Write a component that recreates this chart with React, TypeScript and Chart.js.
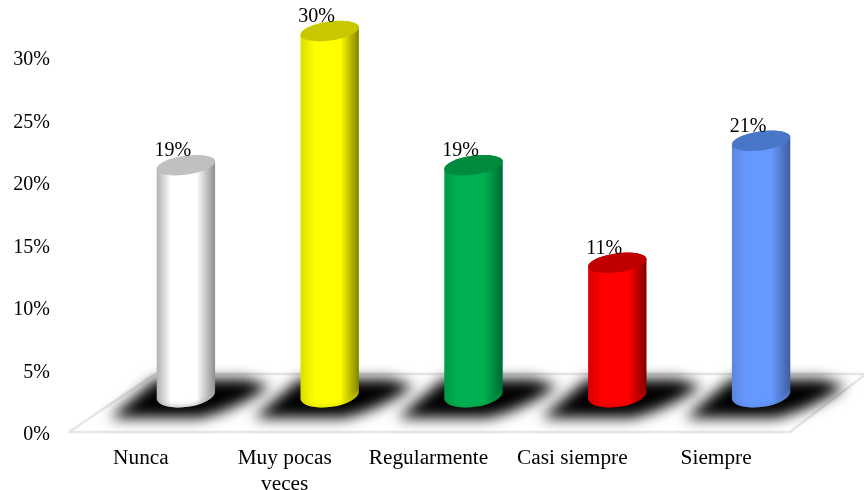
import React, { useEffect, useRef } from "react";
import { Chart, registerables } from "chart.js";

Chart.register(...registerables);

const categories = ["Nunca", ["Muy pocas", "veces"], "Regularmente", "Casi siempre", "Siempre"];
const shares = [19, 30, 19, 11, 21];
const bodyColors = ["#ffffff", "#ffff00", "#00b050", "#ff0000", "#6699ff"];
const capColors = ["#c0c0c0", "#c8c800", "#008a3e", "#c00000", "#4a76c8"];
const edgeLeft = ["#b0b0b0", "#dcdc00", "#009a46", "#d80000", "#5a86e0"];
const edgeRight = ["#8c8c8c", "#808000", "#006830", "#800000", "#3c5c9c"];
const axisTicks = [0, 5, 10, 15, 20, 25, 30];

const FONT = "'Liberation Serif', serif";
const DEPTH_X = 44;
const FLOOR_RISE = 58;
const CAP_RY = 9.5;
const BASE_LIFT = 2;
const TILT = -8 * Math.PI / 180;

const cylinders = {
  id: "cylinders",
  beforeDatasetsDraw(chart: any) {
    const { ctx, chartArea } = chart;
    const left = chartArea.left;
    const right = chartArea.right;
    const floor = chartArea.bottom;
    ctx.save();
    // floor plane
    ctx.beginPath();
    ctx.moveTo(left - 1, floor);
    ctx.lineTo(right + 1, floor);
    ctx.lineTo(right + 77, floor - FLOOR_RISE);
    ctx.lineTo(left + 85, floor - FLOOR_RISE);
    ctx.closePath();
    ctx.fillStyle = "#ffffff";
    ctx.fill();
    ctx.strokeStyle = "#e6e6e6";
    ctx.lineWidth = 2.5;
    ctx.lineJoin = "round";
    ctx.stroke();
    ctx.restore();

    // soft floor shadows
    const meta = chart.getDatasetMeta(0);
    ctx.save();
    ctx.filter = "blur(7px)";
    ctx.fillStyle = "#000000";
    meta.data.forEach((bar: any) => {
      const cx = bar.x + DEPTH_X;
      ctx.beginPath();
      ctx.moveTo(cx - 76, floor - 14);
      ctx.lineTo(cx + 14, floor - 14);
      ctx.quadraticCurveTo(cx + 50, floor - 22, cx + 84, floor - 46);
      ctx.lineTo(cx + 60, floor - 53);
      ctx.lineTo(cx - 30, floor - 53);
      ctx.closePath();
      ctx.fill();
    });
    ctx.restore();
  },
  beforeDatasetDraw(chart: any, args: any) {
    const { ctx } = chart;
    const meta = chart.getDatasetMeta(args.index);
    meta.data.forEach((bar: any, i: number) => {
      const cx = bar.x + DEPTH_X;
      const rx = bar.width / 2;
      const top = bar.y;
      const base = bar.base - BASE_LIFT;
      ctx.save();
      const grad = ctx.createLinearGradient(cx - rx, 0, cx + rx, 0);
      grad.addColorStop(0, edgeLeft[i]);
      grad.addColorStop(0.25, bodyColors[i]);
      grad.addColorStop(0.68, bodyColors[i]);
      grad.addColorStop(1, edgeRight[i]);
      const outline = new Path2D();
      outline.ellipse(cx, base, rx, CAP_RY + 2.5, TILT, 0, Math.PI);
      outline.ellipse(cx, top, rx, CAP_RY, TILT, Math.PI, 2 * Math.PI);
      outline.closePath();
      ctx.fillStyle = grad;
      ctx.fill(outline);

      // rounded rim along the foot of the cylinder
      ctx.save();
      ctx.clip(outline);
      ctx.filter = "blur(2px)";
      ctx.strokeStyle = edgeLeft[i];
      ctx.lineWidth = 3;
      ctx.beginPath();
      ctx.ellipse(cx, base, rx, CAP_RY + 2.5, TILT, 0, Math.PI);
      ctx.stroke();
      ctx.restore();

      ctx.beginPath();
      ctx.ellipse(cx, top, rx, CAP_RY, TILT, 0, 2 * Math.PI);
      ctx.fillStyle = capColors[i];
      ctx.fill();
      ctx.restore();

      ctx.save();
      ctx.font = `20px ${FONT}`;
      ctx.fillStyle = "#000000";
      ctx.textAlign = "center";
      ctx.textBaseline = "middle";
      ctx.fillText(`${shares[i]}%`, cx - 13, top - 14);
      ctx.restore();
    });
    return false;
  },
};

export default function App() {
  const ref = useRef<HTMLCanvasElement | null>(null);
  useEffect(() => {
    document.body.style.margin = "0";
    document.body.style.background = "#ffffff";
    const chart = new Chart(ref.current as HTMLCanvasElement, {
      type: "bar",
      data: {
        labels: categories as any,
        datasets: [
          {
            data: shares,
            yAxisID: "depth",
            backgroundColor: bodyColors,
            barPercentage: 0.41,
            categoryPercentage: 1,
          },
        ],
      },
      plugins: [cylinders],
      options: {
        responsive: false,
        animation: false,
        layout: { padding: { top: 7, right: 75, left: 0, bottom: 0 } },
        plugins: { legend: { display: false }, tooltip: { enabled: false } },
        scales: {
          x: {
            grid: { display: false },
            border: { display: false },
            afterFit: (s: any) => { s.height = 58; s.paddingLeft = 0; s.paddingRight = 0; },
            ticks: {
              color: "#000000",
              padding: 6,
              labelOffset: -1,
              maxRotation: 0,
              autoSkip: false,
              font: { family: FONT, size: 21.3 },
            },
          },
          y: {
            min: 0,
            max: 34,
            grid: { display: false },
            border: { display: false },
            afterFit: (s: any) => { s.width = 70; s.paddingTop = 0; s.paddingBottom = 0; },
            afterBuildTicks: (s: any) => { s.ticks = axisTicks.map((value) => ({ value })); },
            ticks: {
              color: "#000000",
              padding: 12,
              labelOffset: 3,
              font: { family: FONT, size: 20 },
              callback: (v: any) => `${v}%`,
            },
          },
          // hidden scale for the bars, which stand further back on the floor
          depth: {
            display: false,
            min: -2.87,
            max: 31.97,
          },
        },
      },
    });
    return () => chart.destroy();
  }, []);
  return <canvas ref={ref} width={864} height={490} style={{ display: "block" }} />;
}
